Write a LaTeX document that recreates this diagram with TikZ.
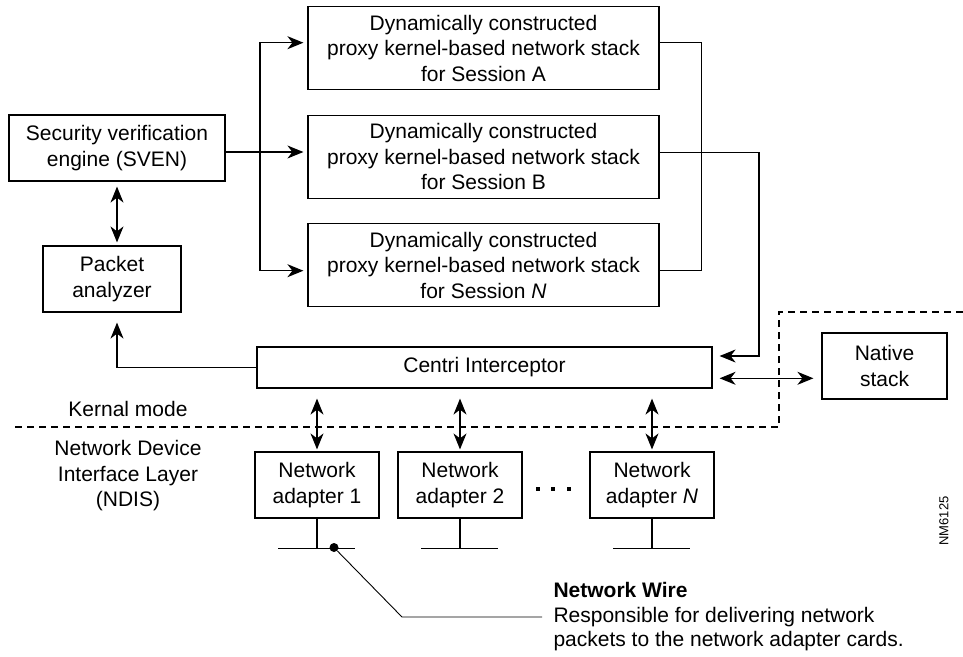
\documentclass[tikz,border=0pt]{standalone}
\usepackage{fontspec}
\setmainfont{Liberation Sans}
\usetikzlibrary{arrows.meta}
\newcommand\dfont{\fontsize{21}{25.5}\selectfont}
\begin{document}
\begin{tikzpicture}[x=1pt,y=-1pt,
  every node/.style={font=\dfont},
  box/.style={draw, line width=1.2pt, inner sep=0pt, align=center},
  session/.style={box, minimum width=351pt, minimum height=83pt},
  adapter/.style={box, minimum width=124pt, minimum height=66pt},
  wire/.style={line width=1.2pt},
  tip/.tip={Stealth[length=16pt,width=13pt,inset=5pt]},
  arr/.style={wire, -tip},
  biarr/.style={wire, tip-tip},
  divider/.style={line width=2.6pt, dash pattern=on 7pt off 5pt},
]
\useasboundingbox (0,0) rectangle (963,656);

% mode boundary
\draw[divider] (15,427) -- (779,427) -- (779,312) -- (963,312);

% boxes
\node[box, minimum width=216pt, minimum height=66pt] (sven) at (117,148) {Security verification\\engine (SVEN)};
\node[box, minimum width=138pt, minimum height=66pt] (pkt) at (112,279) {Packet\\analyzer};
\node[session] (sA) at (483.5,48.3) {Dynamically constructed\\proxy kernel-based network stack\\for Session A};
\node[session] (sB) at (483.5,156.7) {Dynamically constructed\\proxy kernel-based network stack\\for Session B};
\node[session] (sN) at (483.5,265) {Dynamically constructed\\proxy kernel-based network stack\\for Session \textit{N}};
\node[box, minimum width=455pt, minimum height=41pt] (centri) at (484.5,367.5) {Centri Interceptor};
\node[box, minimum width=125pt, minimum height=66pt] (native) at (884.5,366) {Native\\stack};
\node[adapter] (a1) at (317,485) {Network\\adapter 1};
\node[adapter] (a2) at (460,485) {Network\\adapter 2};
\node[adapter] (aN) at (652,485) {Network\\adapter \textit{N}};

% labels
\node[anchor=base] (kmode) at (128,416) {Kernal mode};
\node[align=center] (ndis) at (128,476) {Network Device\\Interface Layer\\(NDIS)};
\node[rotate=90, font=\fontsize{13}{15}\selectfont] (fig) at (944,521) {NM6125};

% SVEN to the session stacks
\coordinate (busB) at (260,152);
\draw[arr, shorten >=4pt] (sven.east |- busB) -- (sB.west |- busB);
\draw[arr, shorten >=4pt] (busB) |- ([yshift=5.6pt]sA.west);
\draw[arr, shorten >=4pt] (busB) |- ([yshift=-5.7pt]sN.west);

% session outputs
\draw[wire] ([yshift=5.6pt]sA.east) -- ++(42,0) |- ([yshift=-5.7pt]sN.east);
\coordinate (bturn) at (759,356);
\draw[arr, shorten >=7pt] ([yshift=4.4pt]sB.east) -| (bturn) -- (bturn -| centri.east);

% interceptor links
\draw[biarr, shorten <=7pt, shorten >=8pt] ([yshift=-10.8pt]centri.east) -- ([yshift=-12.3pt]native.west);
\draw[arr, shorten >=10pt] (centri.west) -| (sven.south |- pkt.south);
\draw[biarr, shorten <=5pt, shorten >=3pt] (sven.south) -- (sven.south |- pkt.north);

\foreach \a in {a1,a2,aN}{
  \draw[biarr, shorten <=10pt, shorten >=2pt] (\a.north |- centri.south) -- (\a.north);
  \draw[wire] (\a.south) -- ++(0,30) coordinate (g\a);
  \draw[wire] ([xshift=-39pt]g\a) -- ([xshift=38pt]g\a);
}

% ellipsis between adapters
\fill (536,487) rectangle ++(4,4);
\fill (551,487) rectangle ++(4,4);
\fill (567,487) rectangle ++(4,4);

% network wire callout
\node[circle, fill, inner sep=0pt, minimum size=9pt] (tap) at (334,547.5) {};
\coordinate (elbow) at (402,617);
\coordinate (leadend) at (542,617);
\draw[line width=0.9pt] (tap) -- (elbow) -- (leadend);
\node[anchor=base west, font=\dfont\bfseries] (nwt) at (550,597) {Network Wire};
\node[anchor=base west] (nw1) at (550,622) {Responsible for delivering network};
\node[anchor=base west] (nw2) at (550,646) {packets to the network adapter cards.};
\end{tikzpicture}
\end{document}
